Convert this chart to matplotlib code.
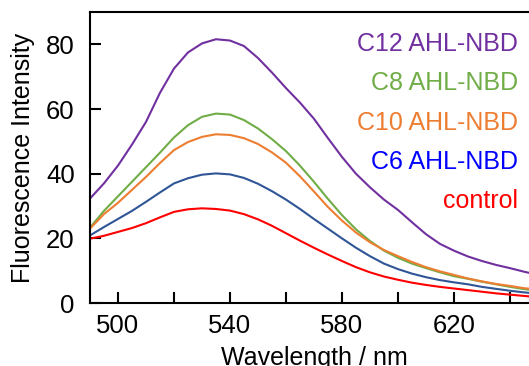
import numpy as np
import matplotlib
matplotlib.use("Agg")
from matplotlib import pyplot as plt

plt.rcParams['font.family'] = ['Liberation Sans', 'DejaVu Sans']

# emission spectra, every 5 nm
wavelength = list(range(490, 655, 5))
c12 = [32.3, 37, 42.5, 49, 56, 65, 72.5, 77.5, 80.3, 81.6, 81.2, 79.5, 75.8, 71.3, 66.5, 62, 57,
       51, 45.2, 40, 35.8, 32, 28.8, 25, 21.3, 18.3, 16.2, 14.4, 13, 11.8, 10.8, 9.7, 8.7]
c8 = [23.3, 28.5, 33, 37.5, 42, 46.5, 51.2, 55, 57.6, 58.6, 58.3, 56.6, 54, 50.7, 47, 42.5, 37.5,
      32.2, 27.2, 22.8, 19.2, 16.2, 14, 12.2, 10.8, 9.5, 8.3, 7.5, 6.6, 5.8, 5, 4.3, 3.8]
c10 = [23, 27.5, 31, 35, 39, 43.3, 47.3, 49.8, 51.4, 52.2, 52, 51, 49.2, 46.6, 43.4, 39.2, 34.5,
       29.7, 25.5, 21.8, 18.8, 16.4, 14.5, 12.7, 11.1, 9.8, 8.7, 7.6, 6.7, 5.9, 5.3, 4.6, 4.2]
c6 = [20.9, 23.5, 26, 28.5, 31.3, 34.2, 37, 38.6, 39.7, 40.1, 39.8, 38.7, 36.9, 34.6, 32, 29.1, 26,
      23, 20, 17.1, 14.5, 12.2, 10.5, 9.1, 8, 7.1, 6.4, 5.8, 5, 4.4, 3.8, 3.3, 2.9]
control = [19.9, 20.8, 22, 23.2, 24.7, 26.5, 28.2, 29, 29.3, 29.1, 28.6, 27.5, 25.9, 23.9, 21.6,
           19.3, 17.1, 15, 13, 11.1, 9.5, 8.2, 7.2, 6.3, 5.6, 5, 4.5, 4, 3.5, 3, 2.6, 2.2, 1.8]

labels = ["C12 AHL-NBD", "C8 AHL-NBD", "C10 AHL-NBD", "C6 AHL-NBD", "control"]
xticks = [500, 520, 540, 560, 580, 600, 620, 640]
yticks = [0, 20, 40, 60, 80]

fig = plt.figure(figsize=(5.29, 3.66), dpi=100)
ax = fig.add_axes([0.170, 0.172, 0.847, 0.795])

series = [(c12, '#7030A0', '#7030A0'),
          (c8, '#70AD47', '#70AD47'),
          (c10, '#ED7D31', '#ED7D31'),
          (c6, '#2F5597', '#0000FF'),
          (control, '#FF0000', '#FF0000')]
text_y = [0.890, 0.756, 0.619, 0.485, 0.351]

for (vals, lc, tc), lab, ty in zip(series, labels, text_y):
    ax.plot(wavelength, vals, color=lc, lw=1.5, solid_joinstyle='round')
    ax.text(0.955, ty, lab, color=tc, fontsize=18, ha='right', va='center',
            transform=ax.transAxes)

ax.set_xlim(490, 650)
ax.set_ylim(0, 90)
ax.set_xticks(xticks)
ax.set_xticklabels([str(t) if t % 40 == 20 else "" for t in xticks])
ax.set_yticks(yticks)
ax.tick_params(direction='in', length=8, width=1.5, labelsize=18.5)
ax.tick_params(axis='x', pad=8)
ax.tick_params(axis='y', pad=11)
for s in ax.spines.values():
    s.set_linewidth(1.5)

ax.set_xlabel("Wavelength / nm", fontsize=18, labelpad=6)
ax.set_ylabel("Fluorescence Intensity", fontsize=18, labelpad=8)

fig.savefig("out.png", dpi=100)
